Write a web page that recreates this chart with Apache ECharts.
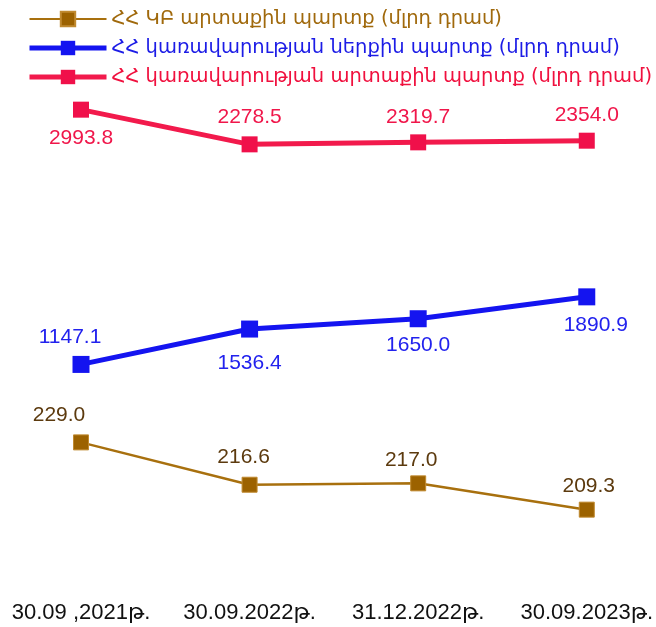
<!DOCTYPE html>
<html>
<head>
<meta charset="utf-8">
<script src="https://cdn.jsdelivr.net/npm/echarts@6/dist/echarts.min.js"></script>
<style>
  html, body { margin: 0; padding: 0; background: #ffffff; }
  #chart { width: 656px; height: 627px; }
</style>
</head>
<body>
<div id="chart"></div>
<script>
  // x轴类目
  var dates = ['30.09 ,2021թ.', '30.09.2022թ.', '31.12.2022թ.', '30.09.2023թ.']

  // 系列名称
  var nameCb = 'ՀՀ ԿԲ արտաքին պարտք (մլրդ դրամ)'
  var nameGovIn = 'ՀՀ կառավարության ներքին պարտք (մլրդ դրամ)'
  var nameGovOut = 'ՀՀ կառավարության արտաքին պարտք (մլրդ դրամ)'

  // 数据
  var cbExternal = [229.0, 216.6, 217.0, 209.3]
  var govInternal = [1147.1, 1536.4, 1650.0, 1890.9]
  var govExternal = [2993.8, 2278.5, 2319.7, 2354.0]

  // 标签偏移 [dx, dy]
  var cbOffsets = [[-22, -27], [-6, -28], [-7, -23], [2, -23]]
  var govInOffsets = [[-11, -27], [0, 34], [0, 26], [9, 28]]
  var govOutOffsets = [[0, 29], [0, -27], [0, -25], [0, -25]]

  function withLabels(values, offsets) {
    return values.map(function (v, i) {
      return { value: v, label: { offset: offsets[i] } }
    })
  }

  var chart = echarts.init(document.getElementById('chart'))

  var labelFont = 'Liberation Sans, Arial, DejaVu Sans, sans-serif'

  var option = {
    backgroundColor: '#ffffff',
    animation: false,
    legend: {
      orient: 'vertical',
      left: 22,
      top: 4,
      itemWidth: 77,
      itemHeight: 18,
      itemGap: 9,
      textStyle: { fontFamily: 'DejaVu Sans', fontSize: 19.5 },
      data: [
        { name: nameCb, textStyle: { color: '#a0690c' }, lineStyle: { width: 2 } },
        { name: nameGovIn, textStyle: { color: '#1c1ce6' }, lineStyle: { width: 5 } },
        { name: nameGovOut, textStyle: { color: '#f0103e' }, lineStyle: { width: 5 } }
      ]
    },
    grid: { left: 81, right: 68, top: 60, bottom: 32 },
    xAxis: {
      type: 'category',
      boundaryGap: false,
      data: dates,
      axisLine: { show: false },
      axisTick: { show: false },
      axisLabel: {
        interval: 0,
        hideOverlap: false,
        margin: 7,
        color: '#111111',
        fontSize: 22,
        fontFamily: labelFont
      }
    },
    // 每个系列各用一根隐藏的y轴
    yAxis: [
      { type: 'value', show: false, min: 184.3, max: 341.0, splitLine: { show: false } },
      { type: 'value', show: false, min: -1391, max: 4498, splitLine: { show: false } },
      { type: 'value', show: false, min: -7015, max: 4018, splitLine: { show: false } }
    ],
    series: [
      {
        name: nameCb,
        type: 'line',
        yAxisIndex: 0,
        data: withLabels(cbExternal, cbOffsets),
        symbol: 'rect',
        symbolSize: 15,
        color: '#9c6200',
        lineStyle: { width: 2.5, color: '#a8700e' },
        itemStyle: { color: '#9c6200', borderColor: '#c08a30', borderWidth: 1 },
        label: {
          show: true,
          position: 'inside',
          formatter: function (p) { return p.value.toFixed(1) },
          color: '#5c3a0e',
          fontSize: 21,
          fontFamily: labelFont
        }
      },
      {
        name: nameGovIn,
        type: 'line',
        yAxisIndex: 1,
        data: withLabels(govInternal, govInOffsets),
        symbol: 'rect',
        symbolSize: 17,
        color: '#1414f0',
        lineStyle: { width: 5, color: '#1414f0' },
        itemStyle: { color: '#1414f0' },
        label: {
          show: true,
          position: 'inside',
          formatter: function (p) { return p.value.toFixed(1) },
          color: '#2222ee',
          fontSize: 21,
          fontFamily: labelFont
        }
      },
      {
        name: nameGovOut,
        type: 'line',
        yAxisIndex: 2,
        data: withLabels(govExternal, govOutOffsets),
        symbol: 'rect',
        symbolSize: 16,
        color: '#f0104a',
        lineStyle: { width: 5, color: '#f21a4c' },
        itemStyle: { color: '#f0104a' },
        label: {
          show: true,
          position: 'inside',
          formatter: function (p) { return p.value.toFixed(1) },
          color: '#f0164a',
          fontSize: 21,
          fontFamily: labelFont
        }
      }
    ]
  }
  chart.setOption(option)
</script>
</body>
</html>
